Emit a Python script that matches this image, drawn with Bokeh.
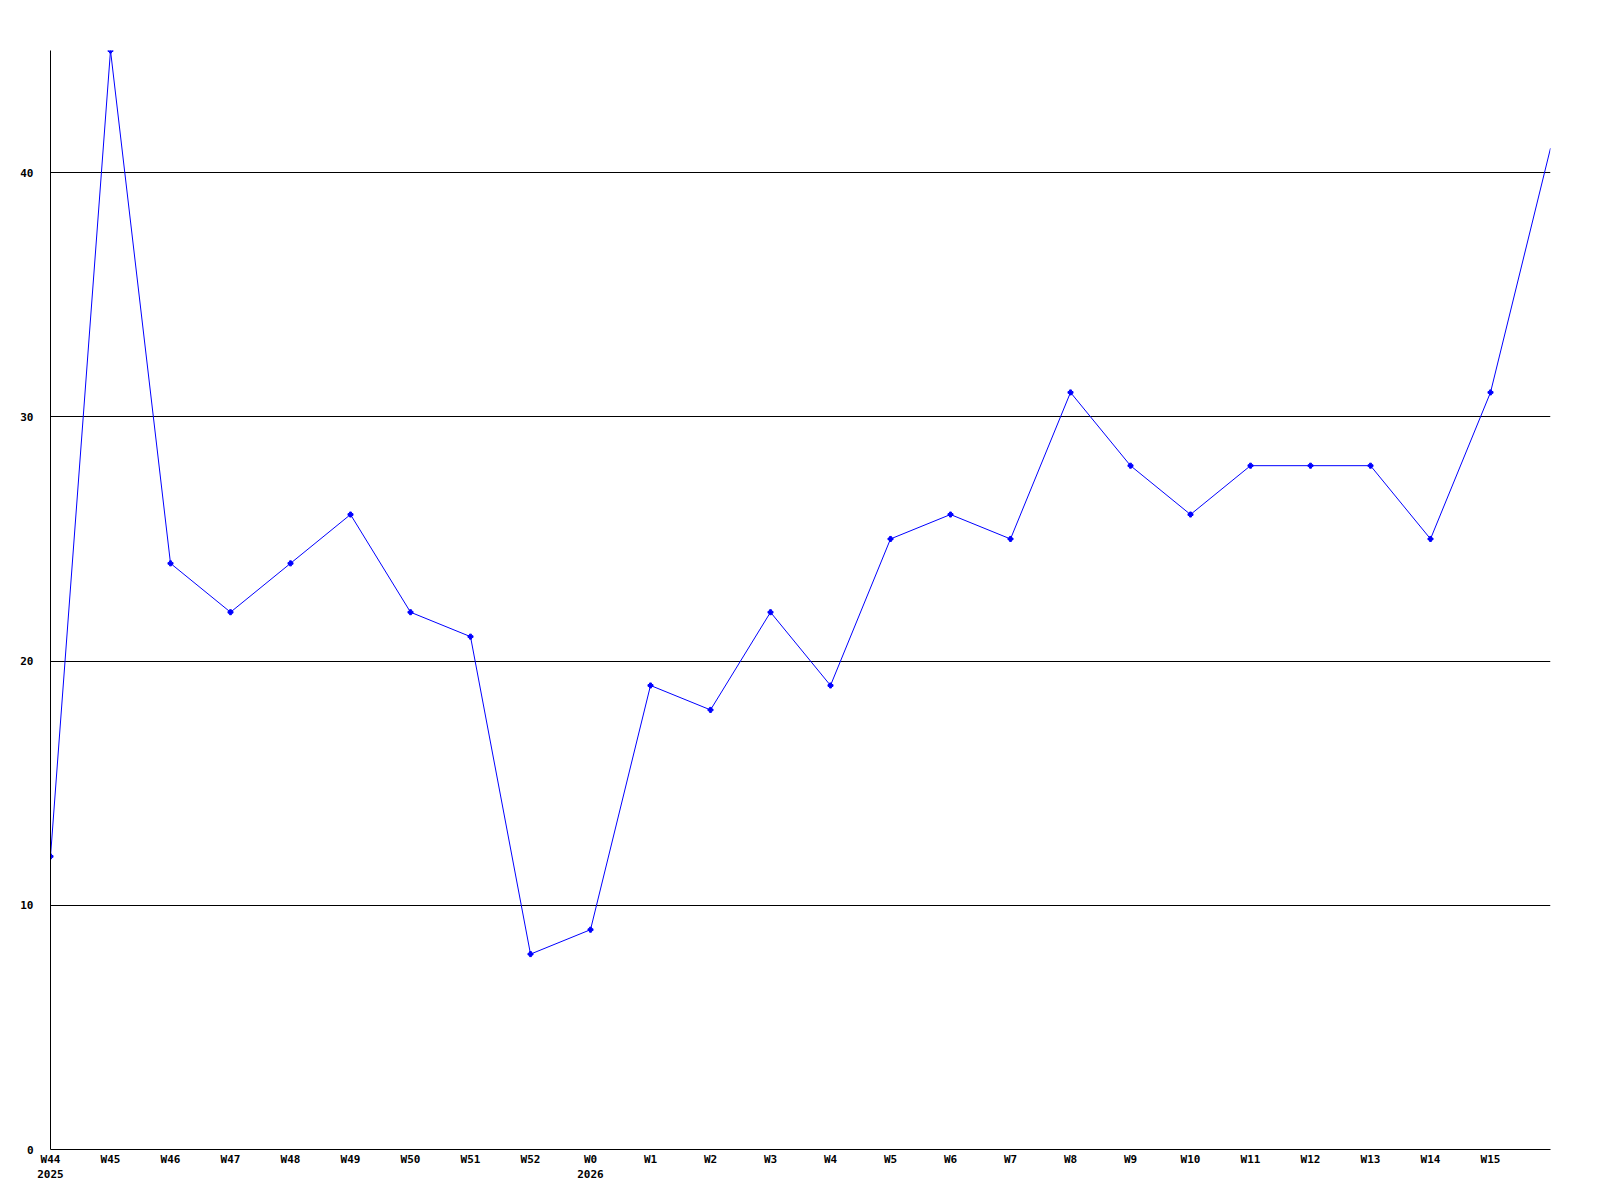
from bokeh.plotting import figure
from bokeh.models import Range1d, FixedTicker
from bokeh.embed import file_html
from bokeh.resources import INLINE

weeks = ["W44\n2025", "W45", "W46", "W47", "W48", "W49", "W50", "W51", "W52",
         "W0\n2026", "W1", "W2", "W3", "W4", "W5", "W6", "W7", "W8", "W9", "W10",
         "W11", "W12", "W13", "W14", "W15", ""]
values = [12, 45, 24, 22, 24, 26, 22, 21, 8, 9, 19, 18, 22, 19, 25, 26, 25, 31,
          28, 26, 28, 28, 28, 25, 31, 41]
y_ticks = [0, 10, 20, 30, 40]

xs = list(range(len(values)))

p = figure(width=1584, height=1184, output_backend="svg", toolbar_location=None,
           x_range=Range1d(0, len(values) - 1), y_range=Range1d(0, 45),
           min_border_left=50, min_border_right=34, min_border_top=50,
           min_border_bottom=31)
p.outline_line_color = None
p.background_fill_color = "white"

p.line(xs, values, line_color="#0000ff", line_width=1)
p.scatter(xs[:-1], values[:-1], marker="plus", size=5, line_color="#0000ff",
          fill_color="#0000ff", line_width=1)

font = "DejaVu Sans Mono"
for ax in (p.xaxis[0], p.yaxis[0]):
    ax.axis_line_color = "black"
    ax.axis_line_width = 1
    ax.major_tick_line_color = None
    ax.minor_tick_line_color = None
    ax.major_label_text_font = font
    ax.major_label_text_font_style = "bold"
    ax.major_label_text_font_size = "11px"
    ax.major_label_text_color = "black"

p.xaxis.ticker = FixedTicker(ticks=xs)
p.xaxis.major_label_overrides = {i: w for i, w in enumerate(weeks)}
p.xaxis.major_label_standoff = 3
p.xaxis.major_tick_out = 0
p.xaxis.major_tick_in = 0

p.yaxis.ticker = FixedTicker(ticks=y_ticks)
p.yaxis.major_label_standoff = 17
p.yaxis.major_tick_out = 0
p.yaxis.major_tick_in = 0

p.xgrid.grid_line_color = None
p.ygrid.ticker = FixedTicker(ticks=y_ticks[1:])
p.ygrid.grid_line_color = "black"
p.ygrid.grid_line_width = 1

open("out.html", "w").write(file_html(p, INLINE))
